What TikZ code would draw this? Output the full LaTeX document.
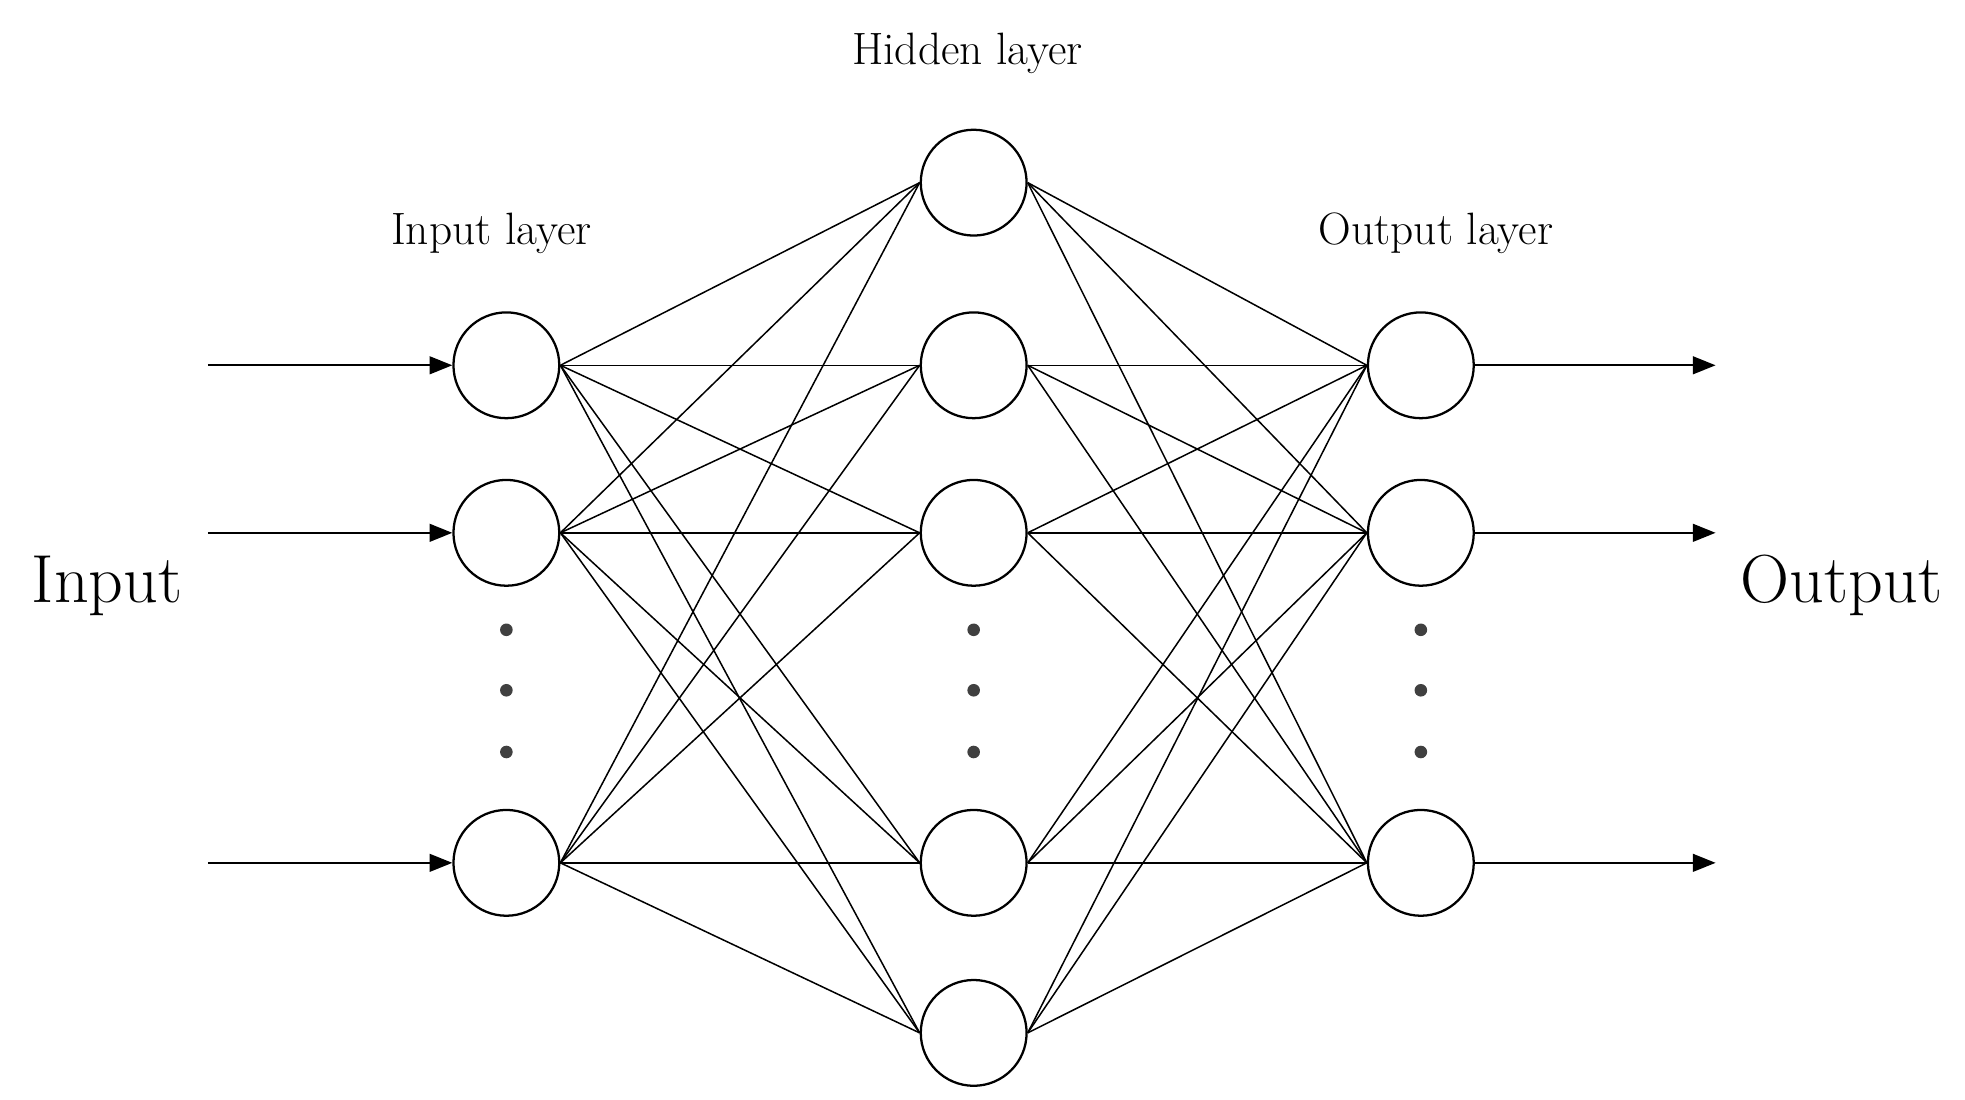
\documentclass[tikz,border=0pt]{standalone}
\usetikzlibrary{arrows.meta}
\begin{document}
\begin{tikzpicture}[x=0.5pt,y=-0.5pt,
  neuron/.style={circle,draw,line width=0.9pt,minimum size=42pt,inner sep=0pt,fill=white},
  conn/.style={line width=0.6pt},
  arr/.style={line width=0.9pt,-{Triangle[length=9pt,width=7pt]}},
  dot/.style={circle,fill=black!75,minimum size=5pt,inner sep=0pt},
  lab/.style={font=\fontsize{18}{20}\selectfont},
  big/.style={font=\fontsize{27}{29}\selectfont}]
\useasboundingbox (0,0) rectangle (1560,873);
\node[neuron] (i1) at (402,290) {};
\node[neuron] (i2) at (402,423) {};
\node[neuron] (i3) at (402,685) {};
\node[neuron] (h1) at (773,145) {};
\node[neuron] (h2) at (773,290) {};
\node[neuron] (h3) at (773,423) {};
\node[neuron] (h4) at (773,685) {};
\node[neuron] (h5) at (773,820) {};
\node[neuron] (o1) at (1128,290) {};
\node[neuron] (o2) at (1128,423) {};
\node[neuron] (o3) at (1128,685) {};
\foreach \i in {1,2,3}{\foreach \h in {1,...,5}{
  \draw[conn] (i\i.east) -- (h\h.west);
  \draw[conn] (h\h.east) -- (o\i.west);}}
\foreach \x/\n in {402/a,773/b,1128/c}{
  \node[dot] (\n1) at (\x,500) {};
  \node[dot] (\n2) at (\x,548) {};
  \node[dot] (\n3) at (\x,597) {};}
\foreach \k/\y in {1/290,2/423,3/685}{
  \coordinate (s\k) at (165,\y);
  \coordinate (e\k) at (1362,\y);
  \draw[arr] (s\k) -- (i\k.west);
  \draw[arr] (o\k.east) -- (e\k);}
\node[lab] (li) at (390,185) {Input layer};
\node[lab] (lh) at (768,42) {Hidden layer};
\node[lab] (lo) at (1140,185) {Output layer};
\node[big] (tin) at (85,465) {Input};
\node[big] (tout) at (1462,465) {Output};
\end{tikzpicture}
\end{document}
